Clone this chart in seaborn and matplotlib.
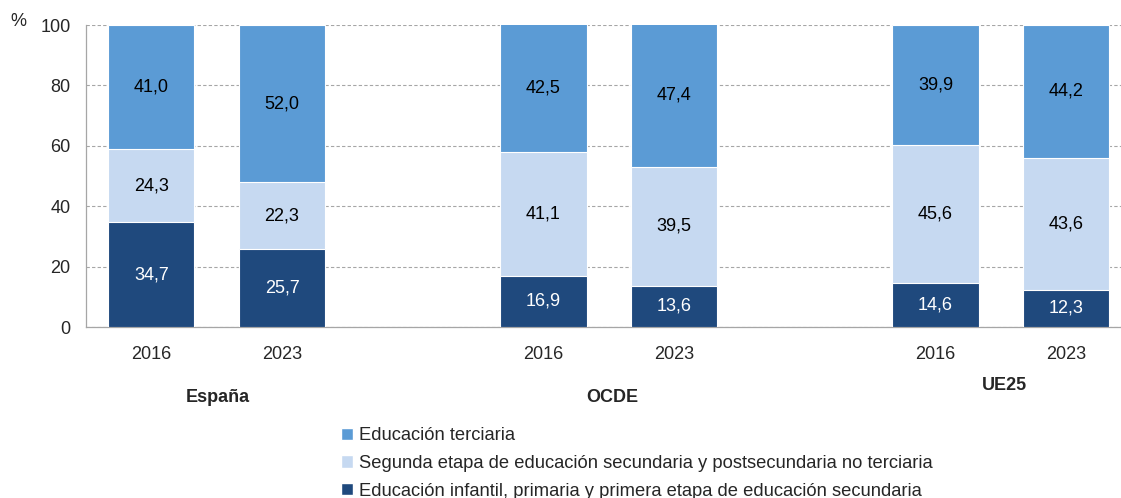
import matplotlib
matplotlib.use("Agg")
import matplotlib.pyplot as plt
from matplotlib.patches import Patch
import pandas as pd
import seaborn as sns

# data
groups = ["España", "OCDE", "UE25"]
years = ["2016", "2023"]
basica = [34.7, 25.7, 16.9, 13.6, 14.6, 12.3]
segunda = [24.3, 22.3, 41.1, 39.5, 45.6, 43.6]
terciaria = [41.0, 52.0, 42.5, 47.4, 39.9, 44.2]

legend_labels = [
    "Educación terciaria",
    "Segunda etapa de educación secundaria y postsecundaria no terciaria",
    "Educación infantil, primaria y primera etapa de educación secundaria",
]
c_ter = "#5B9BD5"
c_seg = "#C6D9F1"
c_bas = "#1F497D"

sns.set_style("white")
plt.rcParams["font.family"] = ["Liberation Sans", "DejaVu Sans"]
FS = 13

bar_keys = [f"{g} {y}" for g in groups for y in years]
order = bar_keys[:2] + ["_g1"] + bar_keys[2:4] + ["_g2"] + bar_keys[4:]
df = pd.DataFrame({"bar": bar_keys, "bas": basica, "seg": segunda, "ter": terciaria})
df["top"] = df["bas"] + df["seg"] + df["ter"]
df["mid"] = df["bas"] + df["seg"]

fig = plt.figure(figsize=(11.21, 4.98), dpi=100)
ax = fig.add_axes([86 / 1121, 1 - 327 / 498, 1045.6 / 1121, 302 / 498])

for col, color in [("top", c_ter), ("mid", c_seg), ("bas", c_bas)]:
    sns.barplot(data=df, x="bar", y=col, order=order, color=color, width=0.66,
                saturation=1, edgecolor="white", linewidth=0.8, ax=ax, zorder=3)

# segment labels
pos = {k: order.index(k) for k in bar_keys}
for _, r in df.iterrows():
    x = pos[r["bar"]]
    for lo, v, tc in [(0, r["bas"], "white"), (r["bas"], r["seg"], "black"),
                      (r["mid"], r["ter"], "black")]:
        ax.text(x, lo + v / 2, f"{v:.1f}".replace(".", ","), ha="center", va="center",
                fontsize=FS, color=tc, zorder=4)

ax.set_xlim(-0.5, 7.5)
ax.set_ylim(0, 100)
ax.set_yticks(range(0, 101, 20))
ax.yaxis.grid(True, linestyle=(0, (3, 2)), color="#A6A6A6", linewidth=0.8, zorder=0)
ax.set_axisbelow(True)
for s in ["top", "right"]:
    ax.spines[s].set_visible(False)
for s in ["left", "bottom"]:
    ax.spines[s].set_color("#A6A6A6")
    ax.spines[s].set_linewidth(0.9)

ax.set_xticks([pos[k] for k in bar_keys])
ax.set_xticklabels(years * 3, fontsize=FS)
ax.set_xticks([i - 0.5 for i in range(9)], minor=True)
ax.tick_params(axis="x", which="major", length=0, pad=14)
ax.tick_params(axis="x", which="minor", length=5, color="#A6A6A6", width=0.9)
ax.tick_params(axis="y", length=6, color="#A6A6A6", width=0.9, labelsize=FS, pad=5)
ax.set_xlabel("")
ax.set_ylabel("")

fig.text(18 / 1121, 1 - 22 / 498, "%", fontsize=FS, ha="center", va="center")

for gx, gy, name in [(218, 397, groups[0]), (612, 397, groups[1]), (1004, 385, groups[2])]:
    fig.text(gx / 1121, 1 - gy / 498, name, fontsize=FS, fontweight="bold",
             ha="center", va="center")

handles = [Patch(facecolor=c_ter), Patch(facecolor=c_seg), Patch(facecolor=c_bas)]
fig.legend(handles, legend_labels, loc="upper left", bbox_to_anchor=(334 / 1121, 1 - 420 / 498),
           frameon=False, fontsize=13.2, handlelength=0.65, handleheight=0.65,
           handletextpad=0.3, labelspacing=0.58, borderaxespad=0)

fig.savefig("out.png", dpi=100)
